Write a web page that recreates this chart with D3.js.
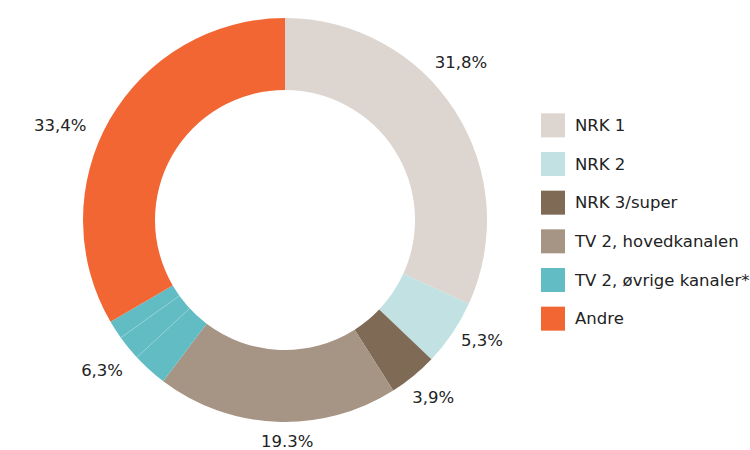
<!DOCTYPE html>
<html>
<head>
<meta charset="utf-8">
<script src="https://cdn.jsdelivr.net/npm/d3@7/dist/d3.min.js"></script>
<style>
  html, body { margin: 0; padding: 0; background: #fff; }
  svg { display: block; }
  text { font-family: "DejaVu Sans", sans-serif; fill: #222; }
</style>
</head>
<body>
<svg id="chart" width="750" height="450"></svg>
<script>
const categories = ["NRK 1", "NRK 2", "NRK 3/super", "TV 2, hovedkanalen", "TV 2, øvrige kanaler*", "Andre"];
const values = [31.8, 5.3, 3.9, 19.3, 6.3, 33.4];
const valueLabels = ["31,8%", "5,3%", "3,9%", "19.3%", "6,3%", "33,4%"];
const subValues = [2.8, 2.0, 1.5]; // sub-channels within "TV 2, øvrige kanaler*"
const colors = ["#dcd5d0", "#c1e1e2", "#7e6a55", "#a69584", "#62bcc3", "#f26633"];

// layout tweaks for label placement (degrees offset from slice middle, radius)
const labelAngleOffset = [-9, -2.5, -0.5, -2.9, 2.1, -7];
const labelRadius = [236, 231, 231, 222, 237, 244];

const svg = d3.select("#chart");
const cx = 285, cy = 220, R = 202, r = 130;
const g = svg.append("g").attr("transform", `translate(${cx},${cy})`);

const pie = d3.pie().sort(null).value(d => d)(values);
const arc = d3.arc().innerRadius(r).outerRadius(R);

g.selectAll("path.slice")
  .data(pie)
  .join("path")
  .attr("class", "slice")
  .attr("d", arc)
  .attr("fill", (d, i) => colors[i]);

// sub-slices separators within TV 2, øvrige kanaler
const sub = pie[4];
const subScale = d3.scaleLinear().domain([0, d3.sum(subValues)]).range([sub.startAngle, sub.endAngle]);
let acc = 0;
const seps = [];
subValues.forEach((v, i) => { acc += v; if (i < subValues.length - 1) seps.push(subScale(acc)); });
g.selectAll("line.sep")
  .data(seps)
  .join("line")
  .attr("class", "sep")
  .attr("x1", a => r * Math.sin(a)).attr("y1", a => -r * Math.cos(a))
  .attr("x2", a => R * Math.sin(a)).attr("y2", a => -R * Math.cos(a))
  .attr("stroke", "#a3d8dc").attr("stroke-width", 0.8);

// value labels
g.selectAll("text.val")
  .data(pie)
  .join("text")
  .attr("class", "val")
  .attr("x", (d, i) => { const a = (d.startAngle + d.endAngle) / 2 + labelAngleOffset[i] * Math.PI / 180; return labelRadius[i] * Math.sin(a); })
  .attr("y", (d, i) => { const a = (d.startAngle + d.endAngle) / 2 + labelAngleOffset[i] * Math.PI / 180; return -labelRadius[i] * Math.cos(a); })
  .attr("text-anchor", "middle")
  .attr("dominant-baseline", "central")
  .attr("font-size", "16.5px")
  .text((d, i) => valueLabels[i]);

// legend
const legendY = d3.scaleBand().domain(categories).range([106, 338]);
const lg = svg.append("g");
const items = lg.selectAll("g.item").data(categories).join("g")
  .attr("class", "item")
  .attr("transform", d => `translate(541,${legendY(d) + legendY.bandwidth() / 2})`);
items.append("rect").attr("x", 0).attr("y", -12).attr("width", 24).attr("height", 24)
  .attr("fill", (d, i) => colors[i]);
items.append("text").attr("x", 34).attr("y", 0)
  .attr("dominant-baseline", "central")
  .attr("font-size", "16.5px")
  .text(d => d);
</script>
</body>
</html>
